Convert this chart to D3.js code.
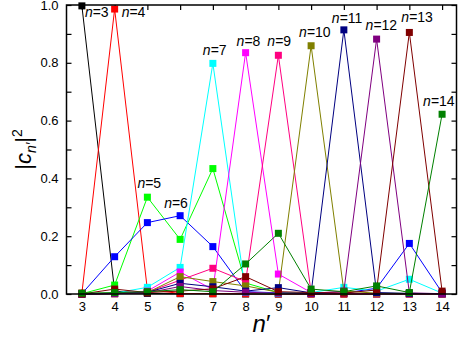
<!DOCTYPE html>
<html><head><meta charset="utf-8">
<script src="https://cdn.jsdelivr.net/npm/d3@7"></script>
<style>body{margin:0;background:#fff}svg{display:block}</style>
</head><body><svg id="c" width="463" height="337"></svg>
<script>
// ---- data ----
const nPrime = [3,4,5,6,7,8,9,10,11,12,13,14];
const seriesN = [3,4,5,6,7,8,9,10,11,12,13,14];
const s3  = [0.997,0.010,0.002,0.001,0.001,0.000,0.000,0.000,0.000,0.000,0.000,0.000];
const s4  = [0.003,0.986,0.015,0.002,0.001,0.001,0.000,0.000,0.000,0.000,0.000,0.000];
const s5  = [0.001,0.031,0.335,0.189,0.434,0.038,0.005,0.003,0.002,0.001,0.001,0.001];
const s6  = [0.001,0.129,0.247,0.271,0.164,0.008,0.004,0.002,0.003,0.020,0.175,0.005];
const s7  = [0.000,0.003,0.023,0.092,0.798,0.005,0.002,0.005,0.023,0.010,0.051,0.003];
const s8  = [0.000,0.002,0.010,0.076,0.015,0.835,0.069,0.005,0.002,0.001,0.001,0.001];
const s9  = [0.000,0.001,0.006,0.048,0.089,0.043,0.826,0.006,0.002,0.001,0.001,0.000];
const s10 = [0.000,0.001,0.005,0.060,0.043,0.028,0.006,0.859,0.010,0.003,0.002,0.001];
const s11 = [0.000,0.002,0.006,0.037,0.025,0.010,0.022,0.004,0.914,0.005,0.002,0.001];
const s12 = [0.000,0.001,0.004,0.026,0.012,0.006,0.003,0.002,0.010,0.882,0.004,0.001];
const s13 = [0.000,0.017,0.005,0.010,0.018,0.060,0.008,0.005,0.003,0.014,0.905,0.010];
const s14 = [0.003,0.005,0.008,0.015,0.008,0.104,0.210,0.017,0.008,0.028,0.005,0.622];
const allSeries = [s3,s4,s5,s6,s7,s8,s9,s10,s11,s12,s13,s14];
const xTicks = [3,4,5,6,7,8,9,10,11,12,13,14];
const yTicks = [0,0.1,0.2,0.3,0.4,0.5,0.6,0.7,0.8,0.9,1.0];

// ---- styles / layout ----
const colors = ["#000000","#ff0000","#00ff00","#0000ff","#00ffff","#ff00ff",
                "#ff0080","#808000","#000080","#800080","#800000","#008000"];
// label offsets relative to each series' labelled point: [pointIndex, dx(left edge), dy(baseline)]
const labelPos = [
  [0, 3, 11], [1, 7, 8], [2, -10, -9], [3, -16, -8], [4, -10, -8], [5, -9, -7],
  [6, -11, -9], [7, -12, -9], [8, -12, -7], [9, -11, -9], [10, -8, -10], [11, -19, -8]
];

const svg = d3.select("#c");
const L = 66.5, R = 456.5, T = 5, B = 294;
const x = d3.scaleLinear().domain([2.53, 14.44]).range([L, R]);
const y = d3.scaleLinear().domain([0, 1]).range([B, T]);

// axes
const fmt = d => (Math.round(d*10) % 2 === 0) ? d3.format(".1f")(d) : "";
svg.append("g").attr("transform", `translate(0,${B})`)
  .call(d3.axisBottom(x).tickValues(xTicks).tickSizeInner(-5).tickSizeOuter(0).tickPadding(8).tickFormat(d3.format("d")));
svg.append("g").attr("transform", `translate(0,${T})`)
  .call(d3.axisTop(x).tickValues(xTicks).tickSizeInner(-5).tickSizeOuter(0).tickFormat(""));
svg.append("g").attr("transform", `translate(${L},0)`)
  .call(d3.axisLeft(y).tickValues(yTicks).tickSizeInner(-5).tickSizeOuter(0).tickPadding(8).tickFormat(fmt));
svg.append("g").attr("transform", `translate(${R},0)`)
  .call(d3.axisRight(y).tickValues(yTicks).tickSizeInner(-5).tickSizeOuter(0).tickFormat(""));
svg.selectAll(".domain").remove();
svg.selectAll(".tick line").attr("stroke","#000").attr("stroke-width",1.2);
svg.selectAll(".tick text").attr("font-family","Liberation Sans, Arial, sans-serif").attr("font-size",13).attr("fill","#000");

// series
const line = d3.line().x((d,i)=>x(nPrime[i])).y(d=>y(d));
const ms = 7;
allSeries.forEach((s, k) => {
  const g = svg.append("g");
  g.append("path").attr("d", line(s)).attr("fill","none").attr("stroke",colors[k]).attr("stroke-width",1);
  g.selectAll("rect").data(s).enter().append("rect")
    .attr("x",(d,i)=>x(nPrime[i])-ms/2).attr("y",d=>y(d)-ms/2)
    .attr("width",ms).attr("height",ms).attr("fill",colors[k]);
});

// frame
svg.append("rect").attr("x",L).attr("y",T).attr("width",R-L).attr("height",B-T)
  .attr("fill","none").attr("stroke","#000").attr("stroke-width",1.5);

// labels
seriesN.forEach((n, k) => {
  const [pi, dx, dy] = labelPos[k];
  const t = svg.append("text")
    .attr("x", x(nPrime[pi]) + dx).attr("y", y(allSeries[k][pi]) + dy)
    .attr("font-family","Liberation Sans, Arial, sans-serif").attr("font-size",14).attr("fill","#000");
  t.append("tspan").attr("font-style","italic").text("n");
  t.append("tspan").text("=" + n);
});

// axis titles
const xt = svg.append("text").attr("x",(L+R)/2).attr("y",332).attr("text-anchor","middle")
  .attr("font-family","Liberation Sans, Arial, sans-serif").attr("font-size",24);
xt.append("tspan").attr("font-style","italic").text("n");
xt.append("tspan").text("\u2032");

const yt = svg.append("text").attr("transform",`translate(31,${(T+B)/2}) rotate(-90)`)
  .attr("text-anchor","middle").attr("font-family","Liberation Sans, Arial, sans-serif").attr("font-size",22);
yt.append("tspan").text("|");
yt.append("tspan").attr("font-style","italic").text("c");
yt.append("tspan").attr("font-style","italic").attr("font-size",14).attr("dy",5).text("n\u2032");
yt.append("tspan").attr("dy",-5).text("|");
yt.append("tspan").attr("font-size",14).attr("dy",-9).text("2");
</script></body></html>
